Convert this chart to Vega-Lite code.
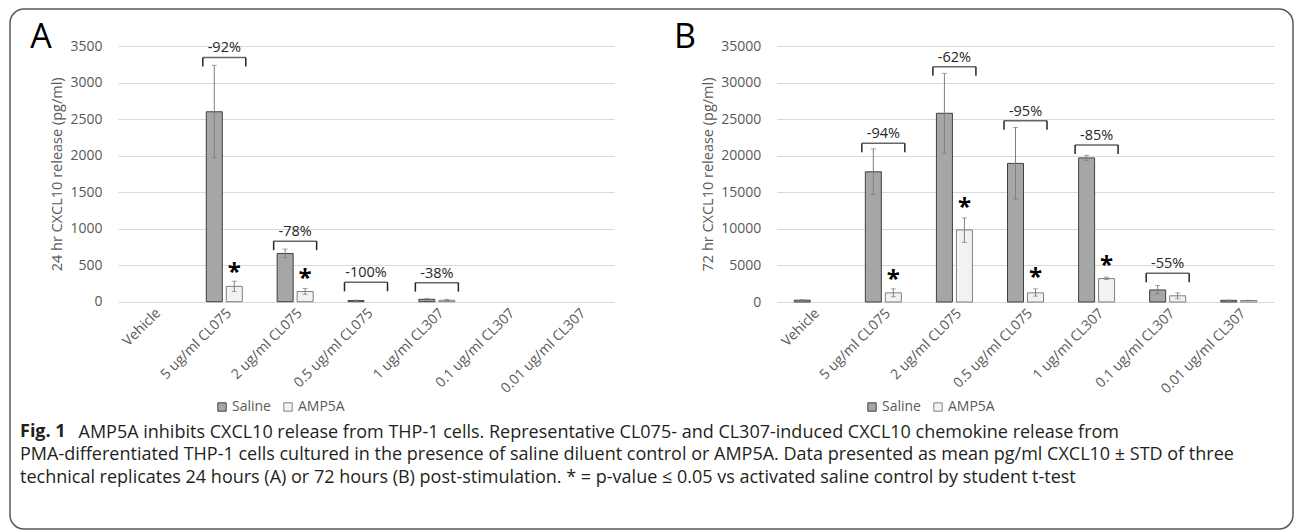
{
  "$schema": "https://vega.github.io/schema/vega-lite/v6.json",
  "width": 1283,
  "height": 520,
  "autosize": {"type": "none"},
  "padding": {"left": 10, "top": 9, "right": 2, "bottom": 3},
  "background": "white",
  "config": {
    "view": {"stroke": "#595959", "strokeWidth": 1.5, "cornerRadius": 14, "fill": "white"},
    "font": "Open Sans",
    "text": {"font": "Open Sans"},
    "axis": {"labelFont": "Open Sans", "titleFont": "Open Sans"},
    "legend": {"labelFont": "Open Sans"}
  },
  "title": {
    "text": "Fig. 1",
    "subtitle": [
      "PMA-differentiated THP-1 cells cultured in the presence of saline diluent control or AMP5A. Data presented as mean pg/ml CXCL10 ± STD of three",
      "technical replicates 24 hours (A) or 72 hours (B) post-stimulation. * = p-value ≤ 0.05 vs activated saline control by student t-test"
    ],
    "orient": "bottom",
    "anchor": "start",
    "frame": "group",
    "offset": -106,
    "dx": 10,
    "font": "Open Sans",
    "fontSize": 18,
    "fontWeight": "bold",
    "color": "#231f20",
    "subtitleFont": "Open Sans",
    "subtitleFontSize": 18,
    "subtitleFontWeight": "normal",
    "subtitleColor": "#231f20",
    "subtitleLineHeight": 23,
    "subtitlePadding": 5
  },
  "datasets": {
    "barsA": [
      {"cat": "5 ug/ml CL075", "grp": "Saline", "v": 2600, "lo": 1970, "hi": 3235},
      {"cat": "5 ug/ml CL075", "grp": "AMP5A", "v": 210, "lo": 140, "hi": 280},
      {"cat": "2 ug/ml CL075", "grp": "Saline", "v": 660, "lo": 600, "hi": 720},
      {"cat": "2 ug/ml CL075", "grp": "AMP5A", "v": 140, "lo": 100, "hi": 180},
      {"cat": "0.5 ug/ml CL075", "grp": "Saline", "v": 15, "lo": 8, "hi": 22},
      {"cat": "1 ug/ml CL307", "grp": "Saline", "v": 33, "lo": 22, "hi": 45},
      {"cat": "1 ug/ml CL307", "grp": "AMP5A", "v": 20, "lo": 10, "hi": 30}
    ],
    "bracketsA": [
      {"cat": "5 ug/ml CL075", "by": 3343, "label": "-92%"},
      {"cat": "2 ug/ml CL075", "by": 829, "label": "-78%"},
      {"cat": "0.5 ug/ml CL075", "by": 266, "label": "-100%"},
      {"cat": "1 ug/ml CL307", "by": 261, "label": "-38%"}
    ],
    "starsA": [
      {"cat": "5 ug/ml CL075", "sy": 476, "t": "*"},
      {"cat": "2 ug/ml CL075", "sy": 398, "t": "*"}
    ],
    "letterA": [{"cat": "Vehicle", "ly": 3500, "t": "A"}],
    "barsB": [
      {"cat": "Vehicle", "grp": "Saline", "v": 250, "lo": 180, "hi": 320},
      {"cat": "5 ug/ml CL075", "grp": "Saline", "v": 17800, "lo": 14700, "hi": 20950},
      {"cat": "5 ug/ml CL075", "grp": "AMP5A", "v": 1250, "lo": 720, "hi": 1800},
      {"cat": "2 ug/ml CL075", "grp": "Saline", "v": 25800, "lo": 20350, "hi": 31250},
      {"cat": "2 ug/ml CL075", "grp": "AMP5A", "v": 9850, "lo": 8150, "hi": 11500},
      {"cat": "0.5 ug/ml CL075", "grp": "Saline", "v": 18950, "lo": 14050, "hi": 23850},
      {"cat": "0.5 ug/ml CL075", "grp": "AMP5A", "v": 1250, "lo": 800, "hi": 1800},
      {"cat": "1 ug/ml CL307", "grp": "Saline", "v": 19700, "lo": 19350, "hi": 20050},
      {"cat": "1 ug/ml CL307", "grp": "AMP5A", "v": 3200, "lo": 3080, "hi": 3400},
      {"cat": "0.1 ug/ml CL307", "grp": "Saline", "v": 1650, "lo": 1100, "hi": 2250},
      {"cat": "0.1 ug/ml CL307", "grp": "AMP5A", "v": 850, "lo": 450, "hi": 1250},
      {"cat": "0.01 ug/ml CL307", "grp": "Saline", "v": 230, "lo": 200, "hi": 260},
      {"cat": "0.01 ug/ml CL307", "grp": "AMP5A", "v": 200, "lo": 170, "hi": 230}
    ],
    "bracketsB": [
      {"cat": "5 ug/ml CL075", "by": 21700, "label": "-94%"},
      {"cat": "2 ug/ml CL075", "by": 32170, "label": "-62%"},
      {"cat": "0.5 ug/ml CL075", "by": 24790, "label": "-95%"},
      {"cat": "1 ug/ml CL307", "by": 21470, "label": "-85%"},
      {"cat": "0.1 ug/ml CL307", "by": 3920, "label": "-55%"}
    ],
    "starsB": [
      {"cat": "5 ug/ml CL075", "sy": 3828, "t": "*"},
      {"cat": "2 ug/ml CL075", "sy": 13714, "t": "*"},
      {"cat": "0.5 ug/ml CL075", "sy": 4143, "t": "*"},
      {"cat": "1 ug/ml CL307", "sy": 5742, "t": "*"}
    ],
    "letterB": [{"cat": "Vehicle", "ly": 35000, "t": "B"}]
  },
  "layer": [
    {
      "layer": [
        {
          "data": {"name": "barsA"},
          "transform": [{"filter": "datum.grp == 'Saline'"}],
          "mark": {"type": "bar", "width": 16, "xOffset": -10, "strokeWidth": 1},
          "encoding": {
            "x": {"field": "cat", "type": "nominal",
              "scale": {"domain": ["Vehicle", "5 ug/ml CL075", "2 ug/ml CL075", "0.5 ug/ml CL075", "1 ug/ml CL307", "0.1 ug/ml CL307", "0.01 ug/ml CL307"], "range": [108, 604], "paddingInner": 0, "paddingOuter": 0},
              "axis": {"orient": "bottom", "offset": -227.3, "title": null, "domain": false, "ticks": false, "grid": false, "labelAngle": -45, "labelAlign": "right", "labelBaseline": "top", "labelPadding": 4, "labelFontSize": 14, "labelColor": "#595959", "labelOverlap": false, "labelLimit": 0}},
            "y": {"field": "v", "type": "quantitative",
              "scale": {"domain": [0, 3500], "range": [292.7, 37], "nice": false, "zero": true},
              "axis": {"orient": "left", "offset": -108, "title": "24 hr CXCL10 release (pg/ml)", "titleFontSize": 14.5, "titleFontWeight": "normal", "titleColor": "#595959", "titlePadding": 5, "values": [0, 500, 1000, 1500, 2000, 2500, 3000, 3500], "format": "d", "grid": true, "gridColor": "#d9d9d9", "gridWidth": 1, "domain": false, "ticks": false, "labelPadding": 16, "labelFontSize": 14, "labelColor": "#595959"}},
            "fill": {"field": "grp", "type": "nominal", "scale": {"domain": ["Saline", "AMP5A"], "range": ["#a6a6a6", "#f2f2f2"]},
              "legend": {"orient": "none", "legendX": 205, "legendY": 391, "direction": "horizontal", "title": null, "symbolType": "square", "symbolSize": 70, "symbolStrokeWidth": 1, "labelFontSize": 14, "labelColor": "#595959", "columnPadding": 10, "labelOffset": 3}},
            "stroke": {"field": "grp", "type": "nominal", "scale": {"domain": ["Saline", "AMP5A"], "range": ["#404040", "#808080"]},
              "legend": {"orient": "none", "legendX": 205, "legendY": 391, "direction": "horizontal", "title": null, "symbolType": "square", "symbolSize": 70, "symbolStrokeWidth": 1, "labelFontSize": 14, "labelColor": "#595959", "columnPadding": 10, "labelOffset": 3}}
          }
        },
        {
          "data": {"name": "barsA"},
          "transform": [{"filter": "datum.grp == 'AMP5A'"}],
          "mark": {"type": "bar", "width": 16, "xOffset": 10, "strokeWidth": 1},
          "encoding": {
            "x": {"field": "cat", "type": "nominal"},
            "y": {"field": "v", "type": "quantitative"},
            "fill": {"field": "grp", "type": "nominal"},
            "stroke": {"field": "grp", "type": "nominal"}
          }
        },
        {
          "data": {"name": "barsA"},
          "transform": [{"filter": "datum.grp == 'Saline'"}],
          "mark": {"type": "rule", "xOffset": -10, "color": "#7f7f7f", "strokeWidth": 1},
          "encoding": {"x": {"field": "cat", "type": "nominal"}, "y": {"field": "lo", "type": "quantitative"}, "y2": {"field": "hi"}}
        },
        {
          "data": {"name": "barsA"},
          "transform": [{"filter": "datum.grp == 'AMP5A'"}],
          "mark": {"type": "rule", "xOffset": 10, "color": "#7f7f7f", "strokeWidth": 1},
          "encoding": {"x": {"field": "cat", "type": "nominal"}, "y": {"field": "lo", "type": "quantitative"}, "y2": {"field": "hi"}}
        },
        {
          "data": {"name": "barsA"},
          "transform": [{"filter": "datum.grp == 'Saline'"}, {"fold": ["lo", "hi"], "as": ["k", "ev"]}],
          "mark": {"type": "tick", "xOffset": -10, "size": 5, "thickness": 1, "color": "#7f7f7f"},
          "encoding": {"x": {"field": "cat", "type": "nominal"}, "y": {"field": "ev", "type": "quantitative"}}
        },
        {
          "data": {"name": "barsA"},
          "transform": [{"filter": "datum.grp == 'AMP5A'"}, {"fold": ["lo", "hi"], "as": ["k", "ev"]}],
          "mark": {"type": "tick", "xOffset": 10, "size": 5, "thickness": 1, "color": "#7f7f7f"},
          "encoding": {"x": {"field": "cat", "type": "nominal"}, "y": {"field": "ev", "type": "quantitative"}}
        },
        {
          "data": {"name": "bracketsA"},
          "mark": {"type": "tick", "size": 43, "thickness": 1.5, "color": "#262626"},
          "encoding": {"x": {"field": "cat", "type": "nominal"}, "y": {"field": "by", "type": "quantitative"}}
        },
        {
          "data": {"name": "bracketsA"},
          "mark": {"type": "rule", "xOffset": -21.5, "y2Offset": 9, "strokeWidth": 1.5, "color": "#262626"},
          "encoding": {"x": {"field": "cat", "type": "nominal"}, "y": {"field": "by", "type": "quantitative"}, "y2": {"field": "by"}}
        },
        {
          "data": {"name": "bracketsA"},
          "mark": {"type": "rule", "xOffset": 21.5, "y2Offset": 9, "strokeWidth": 1.5, "color": "#262626"},
          "encoding": {"x": {"field": "cat", "type": "nominal"}, "y": {"field": "by", "type": "quantitative"}, "y2": {"field": "by"}}
        },
        {
          "data": {"name": "bracketsA"},
          "mark": {"type": "text", "fontSize": 14.5, "dy": -5, "baseline": "alphabetic", "color": "#262626"},
          "encoding": {"x": {"field": "cat", "type": "nominal"}, "y": {"field": "by", "type": "quantitative"}, "text": {"field": "label"}}
        },
        {
          "data": {"name": "starsA"},
          "mark": {"type": "text", "fontSize": 24, "fontWeight": "bold", "dy": 13, "xOffset": 10, "baseline": "alphabetic", "color": "black"},
          "encoding": {"x": {"field": "cat", "type": "nominal"}, "y": {"field": "sy", "type": "quantitative"}, "text": {"field": "t"}}
        },
        {
          "data": {"name": "letterA"},
          "mark": {"type": "text", "fontSize": 34, "xOffset": -112.4, "dy": -8, "baseline": "middle", "color": "black"},
          "encoding": {"x": {"field": "cat", "type": "nominal"}, "y": {"field": "ly", "type": "quantitative"}, "text": {"field": "t"}}
        }
      ]
    },
    {
      "layer": [
        {
          "data": {"name": "barsB"},
          "transform": [{"filter": "datum.grp == 'Saline'"}],
          "mark": {"type": "bar", "width": 16, "xOffset": -10, "strokeWidth": 1},
          "encoding": {
            "x": {"field": "cat", "type": "nominal",
              "scale": {"domain": ["Vehicle", "5 ug/ml CL075", "2 ug/ml CL075", "0.5 ug/ml CL075", "1 ug/ml CL307", "0.1 ug/ml CL307", "0.01 ug/ml CL307"], "range": [766.7, 1264.3], "paddingInner": 0, "paddingOuter": 0},
              "axis": {"orient": "bottom", "offset": -227, "title": "AMP5A inhibits CXCL10 release from THP-1 cells. Representative CL075- and CL307-induced CXCL10 chemokine release from", "titleX": 68, "titleY": 121, "titleAlign": "left", "titleBaseline": "top", "titleAngle": 0, "titleFont": "Open Sans", "titleFontSize": 18, "titleFontWeight": "normal", "titleColor": "#231f20", "titleLimit": 3000, "domain": false, "ticks": false, "grid": false, "labelAngle": -45, "labelAlign": "right", "labelBaseline": "top", "labelPadding": 4, "labelFontSize": 14, "labelColor": "#595959", "labelOverlap": false, "labelLimit": 0}},
            "y": {"field": "v", "type": "quantitative",
              "scale": {"domain": [0, 35000], "range": [293, 37], "nice": false, "zero": true},
              "axis": {"orient": "left", "offset": -766.7, "title": "72 hr CXCL10 release (pg/ml)", "titleFontSize": 14.5, "titleFontWeight": "normal", "titleColor": "#595959", "titlePadding": 5, "values": [0, 5000, 10000, 15000, 20000, 25000, 30000, 35000], "format": "d", "grid": true, "gridColor": "#d9d9d9", "gridWidth": 1, "domain": false, "ticks": false, "labelPadding": 16, "labelFontSize": 14, "labelColor": "#595959"}},
            "fill": {"field": "grp", "type": "nominal", "scale": {"domain": ["Saline", "AMP5A"], "range": ["#a6a6a6", "#f2f2f2"]},
              "legend": {"orient": "none", "legendX": 855, "legendY": 391, "direction": "horizontal", "title": null, "symbolType": "square", "symbolSize": 70, "symbolStrokeWidth": 1, "labelFontSize": 14, "labelColor": "#595959", "columnPadding": 10, "labelOffset": 3}},
            "stroke": {"field": "grp", "type": "nominal", "scale": {"domain": ["Saline", "AMP5A"], "range": ["#404040", "#808080"]},
              "legend": {"orient": "none", "legendX": 855, "legendY": 391, "direction": "horizontal", "title": null, "symbolType": "square", "symbolSize": 70, "symbolStrokeWidth": 1, "labelFontSize": 14, "labelColor": "#595959", "columnPadding": 10, "labelOffset": 3}}
          }
        },
        {
          "data": {"name": "barsB"},
          "transform": [{"filter": "datum.grp == 'AMP5A'"}],
          "mark": {"type": "bar", "width": 16, "xOffset": 10, "strokeWidth": 1},
          "encoding": {
            "x": {"field": "cat", "type": "nominal"},
            "y": {"field": "v", "type": "quantitative"},
            "fill": {"field": "grp", "type": "nominal"},
            "stroke": {"field": "grp", "type": "nominal"}
          }
        },
        {
          "data": {"name": "barsB"},
          "transform": [{"filter": "datum.grp == 'Saline'"}],
          "mark": {"type": "rule", "xOffset": -10, "color": "#7f7f7f", "strokeWidth": 1},
          "encoding": {"x": {"field": "cat", "type": "nominal"}, "y": {"field": "lo", "type": "quantitative"}, "y2": {"field": "hi"}}
        },
        {
          "data": {"name": "barsB"},
          "transform": [{"filter": "datum.grp == 'AMP5A'"}],
          "mark": {"type": "rule", "xOffset": 10, "color": "#7f7f7f", "strokeWidth": 1},
          "encoding": {"x": {"field": "cat", "type": "nominal"}, "y": {"field": "lo", "type": "quantitative"}, "y2": {"field": "hi"}}
        },
        {
          "data": {"name": "barsB"},
          "transform": [{"filter": "datum.grp == 'Saline'"}, {"fold": ["lo", "hi"], "as": ["k", "ev"]}],
          "mark": {"type": "tick", "xOffset": -10, "size": 5, "thickness": 1, "color": "#7f7f7f"},
          "encoding": {"x": {"field": "cat", "type": "nominal"}, "y": {"field": "ev", "type": "quantitative"}}
        },
        {
          "data": {"name": "barsB"},
          "transform": [{"filter": "datum.grp == 'AMP5A'"}, {"fold": ["lo", "hi"], "as": ["k", "ev"]}],
          "mark": {"type": "tick", "xOffset": 10, "size": 5, "thickness": 1, "color": "#7f7f7f"},
          "encoding": {"x": {"field": "cat", "type": "nominal"}, "y": {"field": "ev", "type": "quantitative"}}
        },
        {
          "data": {"name": "bracketsB"},
          "mark": {"type": "tick", "size": 43, "thickness": 1.5, "color": "#262626"},
          "encoding": {"x": {"field": "cat", "type": "nominal"}, "y": {"field": "by", "type": "quantitative"}}
        },
        {
          "data": {"name": "bracketsB"},
          "mark": {"type": "rule", "xOffset": -21.5, "y2Offset": 9, "strokeWidth": 1.5, "color": "#262626"},
          "encoding": {"x": {"field": "cat", "type": "nominal"}, "y": {"field": "by", "type": "quantitative"}, "y2": {"field": "by"}}
        },
        {
          "data": {"name": "bracketsB"},
          "mark": {"type": "rule", "xOffset": 21.5, "y2Offset": 9, "strokeWidth": 1.5, "color": "#262626"},
          "encoding": {"x": {"field": "cat", "type": "nominal"}, "y": {"field": "by", "type": "quantitative"}, "y2": {"field": "by"}}
        },
        {
          "data": {"name": "bracketsB"},
          "mark": {"type": "text", "fontSize": 14.5, "dy": -5, "baseline": "alphabetic", "color": "#262626"},
          "encoding": {"x": {"field": "cat", "type": "nominal"}, "y": {"field": "by", "type": "quantitative"}, "text": {"field": "label"}}
        },
        {
          "data": {"name": "starsB"},
          "mark": {"type": "text", "fontSize": 24, "fontWeight": "bold", "dy": 13, "xOffset": 10, "baseline": "alphabetic", "color": "black"},
          "encoding": {"x": {"field": "cat", "type": "nominal"}, "y": {"field": "sy", "type": "quantitative"}, "text": {"field": "t"}}
        },
        {
          "data": {"name": "letterB"},
          "mark": {"type": "text", "fontSize": 34, "xOffset": -127.2, "dy": -8, "baseline": "middle", "color": "black"},
          "encoding": {"x": {"field": "cat", "type": "nominal"}, "y": {"field": "ly", "type": "quantitative"}, "text": {"field": "t"}}
        }
      ]
    }
  ],
  "resolve": {
    "scale": {"x": "independent", "y": "independent", "fill": "independent", "stroke": "independent"},
    "axis": {"x": "independent", "y": "independent"},
    "legend": {"fill": "independent", "stroke": "independent"}
  }
}
